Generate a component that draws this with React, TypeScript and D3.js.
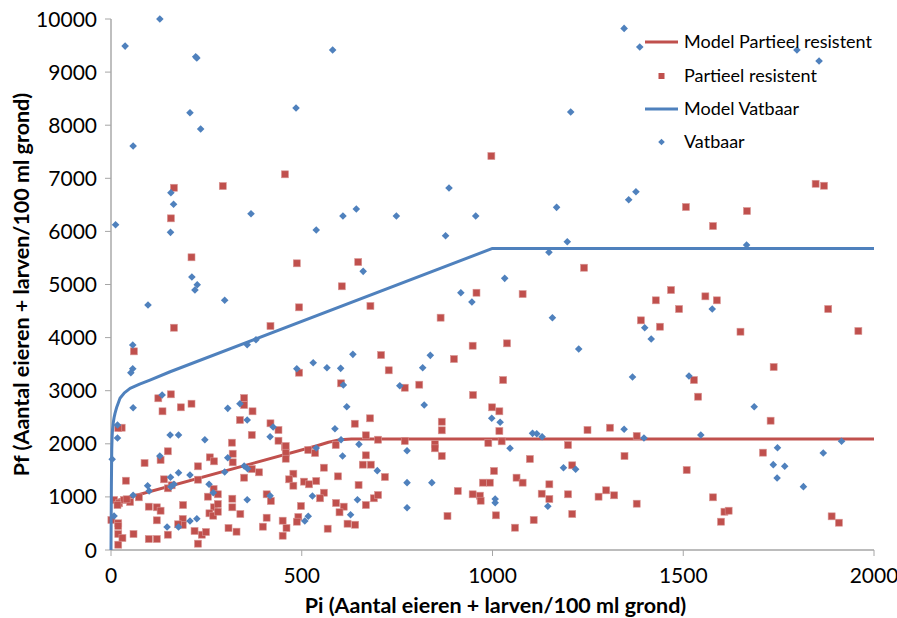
import React from "react";
import * as d3 from "d3";

// Axis ticks
const piTicks = [0, 500, 1000, 1500, 2000];
const pfTicks = [0, 1000, 2000, 3000, 4000, 5000, 6000, 7000, 8000, 9000, 10000];

// Observed Pi / Pf pairs, susceptible cultivars
const vatbaarPoints: [number, number][] = [
  [128, 10000], [37, 9490], [222, 9290], [225, 9265], [207, 8235], [235, 7928], [58, 7607], [485, 8323],
  [157, 6728], [581, 9415], [886, 6817], [1345, 9823], [1386, 9472], [1205, 8248], [1376, 6747], [1798, 9415],
  [1856, 9208], [164, 6510], [12, 6126], [156, 5982], [367, 6333], [212, 5141], [226, 4996], [220, 4896],
  [298, 4702], [97, 4613], [57, 3860], [357, 3866], [380, 3960], [57, 3414], [52, 3339], [487, 3414],
  [608, 6289], [643, 6421], [748, 6289], [956, 6289], [538, 6026], [877, 5918], [661, 5248], [917, 4845],
  [946, 4670], [634, 3685], [837, 3666], [530, 3527], [566, 3433], [602, 3421], [817, 3433],
  [1357, 6596], [1168, 6453], [1196, 5805], [1148, 5606], [1032, 5116], [1157, 4375], [1399, 4186], [1416, 3973],
  [1226, 3785], [1367, 3258], [1666, 5743], [1576, 4538], [1515, 3276],
  [1686, 2699], [1546, 2166], [1915, 2047], [1747, 1927], [1867, 1827], [1736, 1607], [1766, 1576], [1746, 1356],
  [1815, 1193], [998, 2480], [1020, 2405], [1345, 2273], [1397, 2109], [1105, 2197], [1116, 2190], [1130, 2134],
  [1046, 1915], [1186, 1550], [1218, 1520], [1007, 960], [1007, 891], [1145, 823],
  [609, 3107], [757, 3094], [821, 2730], [618, 2699], [587, 2284], [603, 2077], [650, 1990], [538, 1921],
  [776, 1870], [607, 1770], [698, 1494], [776, 1268], [841, 1268], [528, 1017], [646, 947], [776, 797],
  [628, 665], [517, 635], [508, 546],
  [134, 2919], [58, 2680], [306, 2668], [338, 2755], [357, 2448], [425, 2316], [417, 2134], [306, 1738],
  [246, 2077], [298, 1469], [349, 1582], [358, 1531], [177, 2166], [155, 2166], [128, 1770], [17, 2354],
  [17, 2109], [3, 1708], [156, 1369], [177, 1456], [207, 1412], [96, 1211], [100, 1111], [157, 1192],
  [165, 1237], [257, 1237], [268, 1079], [58, 1030], [8, 640], [147, 433], [177, 433], [207, 546],
  [225, 589], [417, 1023], [357, 947],
];

// Observed Pi / Pf pairs, partially resistant cultivars
const partieelPoints: [number, number][] = [
  [165, 6822], [293, 6854], [456, 7075], [997, 7419], [1847, 6897], [1869, 6860],
  [157, 6246], [211, 5512], [487, 5399], [165, 4186], [418, 4218], [493, 4570], [60, 3741], [493, 3339],
  [648, 5423], [605, 4966], [680, 4595], [958, 4845], [864, 4375], [948, 3847], [708, 3672], [899, 3597], [728, 3384],
  [1507, 6459], [1240, 5316], [1079, 4820], [1468, 4896], [1428, 4702], [1489, 4538], [1389, 4325], [1439, 4205], [1038, 3892],
  [1667, 6383], [1578, 6101], [1558, 4777], [1588, 4702], [1880, 4538], [1650, 4111], [1959, 4124], [1737, 3446],
  [1528, 3201], [1539, 2887], [1729, 2435], [1709, 1833], [1509, 1506], [1578, 992], [1608, 721], [1619, 740],
  [1599, 533], [1889, 634], [1908, 514],
  [1028, 3201], [999, 2687], [1018, 2612], [1018, 2241], [1249, 2260], [1308, 2303], [1378, 2147], [1024, 2047],
  [1198, 1977], [1098, 1714], [1346, 1770], [1209, 1595], [1004, 1488], [1063, 1362], [1079, 1268], [993, 1268],
  [975, 1268], [1149, 1237], [1129, 1060], [1149, 960], [1198, 1049], [1278, 1004], [1298, 1124], [1319, 1030],
  [1378, 872], [1009, 653], [1108, 565], [1209, 678], [1059, 420],
  [603, 3139], [770, 3056], [808, 3113], [949, 2919], [639, 2378], [679, 2480], [867, 2416], [867, 2254],
  [668, 2160], [700, 2077], [770, 2053], [849, 1996], [849, 1915], [989, 2015], [589, 1977], [517, 1883],
  [535, 1827], [867, 1770], [668, 1783], [660, 1607], [681, 1607], [558, 1550], [718, 1375], [595, 1387],
  [649, 1224], [506, 1287], [519, 1237], [538, 1299], [909, 1111], [948, 1049], [967, 1023], [969, 928],
  [558, 1079], [548, 974], [689, 974], [700, 1036], [668, 847], [590, 885], [610, 816], [599, 710],
  [498, 829], [882, 640], [491, 621], [487, 533], [620, 495], [640, 476], [568, 401],
  [124, 2857], [157, 2932], [211, 2755], [183, 2687], [135, 2612], [349, 2862], [349, 2730], [371, 2612],
  [338, 2448], [418, 2386], [439, 2260], [439, 2058], [456, 1945], [369, 2166], [317, 2021], [319, 1813],
  [319, 1651], [259, 1745], [270, 1670], [228, 1576], [369, 1525], [388, 1463], [349, 1362], [149, 1859],
  [130, 1695], [88, 1638], [28, 2303], [19, 2297], [39, 1305], [139, 1331], [228, 1324], [149, 1162],
  [159, 1218], [269, 1149], [280, 1049], [254, 1004], [270, 804], [280, 866], [258, 691], [268, 646],
  [280, 721], [73, 992], [8, 942], [21, 879], [34, 942], [50, 904], [41, 955], [17, 847],
  [1, 565], [19, 503], [19, 452], [19, 301], [30, 226], [19, 100], [59, 301], [99, 816],
  [120, 804], [130, 740], [189, 847], [120, 559], [99, 207], [120, 207], [149, 288], [188, 584],
  [188, 471], [176, 484], [219, 358], [238, 288], [249, 339], [228, 119], [308, 414], [329, 345],
  [339, 678], [318, 804], [318, 966], [450, 552], [460, 414], [450, 269], [408, 608], [398, 439],
  [478, 1437], [467, 1331], [478, 1211], [408, 1049], [419, 923], [458, 1958], [458, 1832], [458, 1719],
];

// Fitted model curves
const modelVatbaar: [number, number][] = [
  [0, 0], [1, 1200], [2, 1900], [3, 2150], [4, 2270], [6, 2400], [8, 2490], [10.5, 2574],
  [15, 2690], [23.6, 2857], [35, 2960], [50, 3045], [75, 3125], [102, 3200], [155, 3357],
  [1000, 5680], [2000, 5680],
];
const modelPartieel: [number, number][] = [
  [0, 900], [540, 1964], [570, 2030], [600, 2075], [630, 2090], [2000, 2090],
];

const seriesNames = ["Model Partieel resistent", "Partieel resistent", "Model Vatbaar", "Vatbaar"];

const RED = "#C0504D";
const BLUE = "#4F81BD";
const FONT = "Lato, 'Liberation Sans', sans-serif";

export default function App() {
  const width = 897;
  const height = 618;
  const margin = { left: 111, right: 23, top: 19, bottom: 68 };

  const x = d3.scaleLinear().domain([0, 2000]).range([margin.left, width - margin.right]);
  const y = d3.scaleLinear().domain([0, 10000]).range([height - margin.bottom, margin.top]);

  const line = d3
    .line<[number, number]>()
    .x((d) => x(d[0]))
    .y((d) => y(d[1]))
    .curve(d3.curveLinear);

  const h = 3.8;
  const diamond = `M0,${-h}L${h},0L0,${h}L${-h},0Z`;
  const sq = 7;

  const x0 = x(0);
  const y0 = y(0);

  const legendX = 645;
  const legendYs = [42, 76, 109, 142];

  return (
    <svg
      width={width}
      height={height}
      style={{ position: "absolute", left: 0, top: 0, background: "#fff" }}
      fontFamily={FONT}
    >
      <rect width={width} height={height} fill="#fff" />

      {/* axes */}
      <line x1={x0} x2={x0} y1={y(10000)} y2={y0} stroke="#bfbfbf" strokeWidth={2} />
      <line x1={x0} x2={x(2000)} y1={y0} y2={y0} stroke="#a6a6a6" strokeWidth={1.5} />
      {pfTicks.map((t) => (
        <g key={"pf" + t}>
          <line x1={x0 - 6} x2={x0} y1={y(t)} y2={y(t)} stroke="#a6a6a6" strokeWidth={1} />
          <text x={x0 - 14} y={y(t)} dy="0.36em" textAnchor="end" fontSize={21} fill="#000">
            {t}
          </text>
        </g>
      ))}
      {piTicks.map((t) => (
        <g key={"pi" + t}>
          <line x1={x(t)} x2={x(t)} y1={y0} y2={y0 + 6} stroke="#a6a6a6" strokeWidth={1} />
          <text x={x(t)} y={y0 + 33} textAnchor="middle" fontSize={21} fill="#000">
            {t}
          </text>
        </g>
      ))}

      {/* axis titles */}
      <text
        transform={`translate(21, ${(y(0) + y(10000)) / 2}) rotate(-90)`}
        textAnchor="middle"
        dy="0.36em"
        fontSize={21.5}
        fontWeight="bold"
      >
        Pf (Aantal eieren + larven/100 ml grond)
      </text>
      <text x={(x(0) + x(2000)) / 2 + 3} y={613} textAnchor="middle" fontSize={21.5} fontWeight="bold">
        Pi (Aantal eieren + larven/100 ml grond)
      </text>

      {/* partially resistant */}
      <path d={line(modelPartieel) || ""} fill="none" stroke={RED} strokeWidth={3} strokeLinejoin="round" />
      {partieelPoints.map((d, i) => (
        <rect
          key={"p" + i}
          x={x(d[0]) - sq / 2}
          y={y(d[1]) - sq / 2}
          width={sq}
          height={sq}
          fill={RED}
          stroke="#d99694"
          strokeWidth={0.6}
        />
      ))}

      {/* susceptible */}
      <path d={line(modelVatbaar) || ""} fill="none" stroke={BLUE} strokeWidth={3} strokeLinejoin="round" />
      {vatbaarPoints.map((d, i) => (
        <path key={"v" + i} d={diamond} transform={`translate(${x(d[0])},${y(d[1])})`} fill={BLUE} />
      ))}

      {/* legend */}
      <g>
        <line x1={legendX} x2={legendX + 33} y1={legendYs[0]} y2={legendYs[0]} stroke={RED} strokeWidth={3} />
        <rect x={legendX + 16.5 - 3} y={legendYs[1] - 3} width={6} height={6} fill={RED} />
        <line x1={legendX} x2={legendX + 33} y1={legendYs[2]} y2={legendYs[2]} stroke={BLUE} strokeWidth={3} />
        <path d={`M0,-3.3L3.3,0L0,3.3L-3.3,0Z`} transform={`translate(${legendX + 16.5},${legendYs[3]})`} fill={BLUE} />
        {seriesNames.map((n, i) => (
          <text key={n} x={legendX + 39} y={legendYs[i]} dy="0.36em" fontSize={18} fill="#000">
            {n}
          </text>
        ))}
      </g>
    </svg>
  );
}
